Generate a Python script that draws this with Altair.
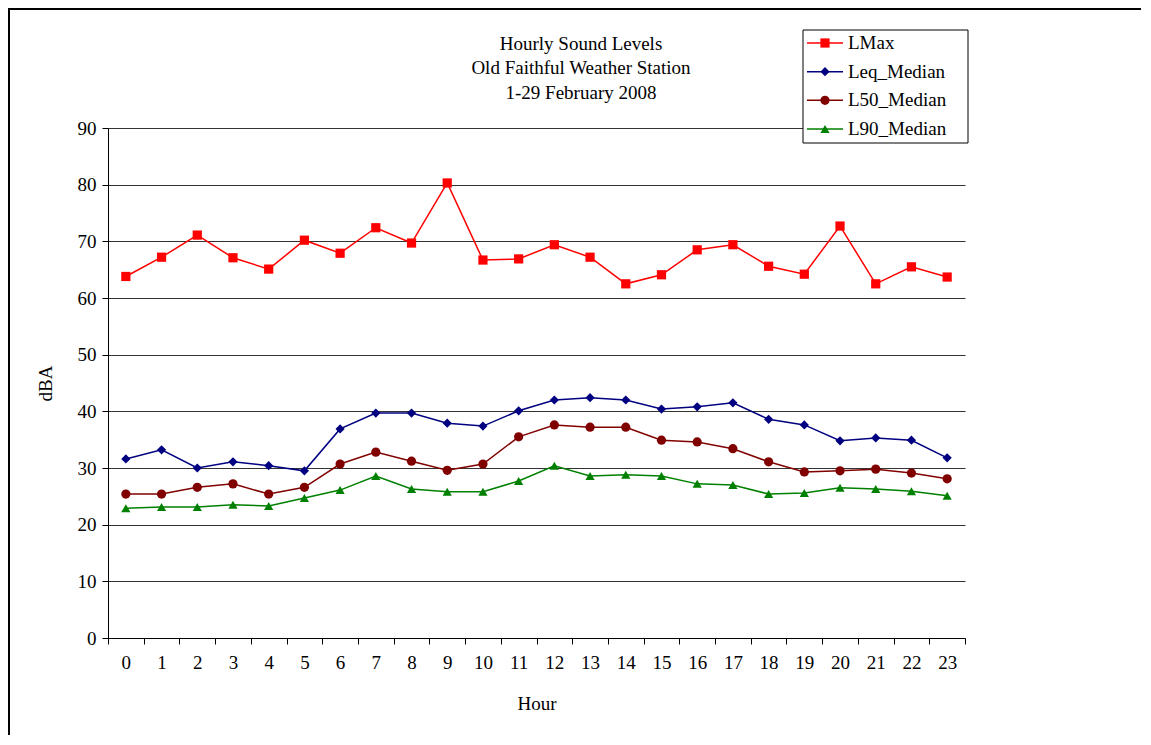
import altair as alt
import pandas as pd

hours = list(range(24))
lmax = [63.8, 67.2, 71.1, 67.1, 65.1, 70.2, 67.9, 72.4, 69.7, 80.3, 66.7, 66.9,
        69.4, 67.2, 62.5, 64.1, 68.5, 69.4, 65.6, 64.2, 72.7, 62.5, 65.5, 63.7]
leq = [31.6, 33.2, 30.0, 31.1, 30.4, 29.5, 36.9, 39.7, 39.7, 37.9, 37.4, 40.1,
       42.0, 42.4, 42.0, 40.4, 40.8, 41.5, 38.6, 37.6, 34.8, 35.3, 34.9, 31.8]
l50 = [25.4, 25.4, 26.6, 27.2, 25.4, 26.6, 30.7, 32.8, 31.2, 29.6, 30.7, 35.5,
       37.6, 37.2, 37.2, 34.9, 34.6, 33.4, 31.1, 29.3, 29.5, 29.8, 29.1, 28.1]
l90 = [22.9, 23.1, 23.1, 23.5, 23.3, 24.7, 26.1, 28.6, 26.3, 25.8, 25.8, 27.7,
       30.4, 28.6, 28.8, 28.6, 27.2, 27.0, 25.4, 25.6, 26.5, 26.3, 25.9, 25.1]

series_names = ["LMax", "Leq_Median", "L50_Median", "L90_Median"]
series_colors = ["#FF0000", "#000080", "#800000", "#008000"]
series_shapes = ["square", "diamond", "circle", "triangle-up"]
title_lines = ["Hourly Sound Levels", "Old Faithful Weather Station", "1-29 February 2008"]

rows = []
for name, vals in zip(series_names, [lmax, leq, l50, l90]):
    for h, v in zip(hours, vals):
        rows.append({"Hour": h, "Series": name, "dBA": v})
df = pd.DataFrame(rows)
legend_df = pd.DataFrame({"Series": series_names})

FONT = "Liberation Serif"
FS = 19

xenc = alt.X("Hour:O", title="Hour",
             scale=alt.Scale(paddingInner=0, paddingOuter=0),
             axis=alt.Axis(labelAngle=0, tickBand="extent", grid=False,
                           labelFontSize=FS, titleFontSize=FS, labelPadding=9,
                           titlePadding=22, tickSize=6))
yenc = alt.Y("dBA:Q", title="dBA",
             scale=alt.Scale(domain=[0, 90], nice=False),
             axis=alt.Axis(values=list(range(0, 100, 10)), grid=True,
                           labelFontSize=FS, titleFontSize=FS, tickSize=6,
                           labelPadding=6, titlePadding=22))

color_scale = alt.Scale(domain=series_names, range=series_colors)
shape_scale = alt.Scale(domain=series_names, range=series_shapes)
color_enc = alt.Color("Series:N", scale=color_scale, legend=None)
shape_enc = alt.Shape("Series:N", scale=shape_scale, legend=None)

# outer frame
frame = alt.Chart(pd.DataFrame({"k": [0]})).mark_rect(
    filled=False, stroke="black", strokeWidth=2
).encode(x=alt.value(-99), x2=alt.value(1200), y=alt.value(-119), y2=alt.value(800))

# title
title_layers = []
for txt, yy in zip(title_lines, [-84, -60, -35]):
    title_layers.append(
        alt.Chart(pd.DataFrame({"t": [txt]})).mark_text(
            font=FONT, fontSize=FS, color="black", align="center", baseline="middle"
        ).encode(text="t:N", x=alt.value(473), y=alt.value(yy))
    )

lines = alt.Chart(df).mark_line(strokeWidth=1.5).encode(
    x=xenc, y=yenc, color=color_enc, detail="Series:N",
)
points = alt.Chart(df).mark_point(filled=True, opacity=1, size=85).encode(
    x=xenc, y=yenc, color=color_enc, shape=shape_enc,
)
main = alt.layer(frame, *title_layers, lines, points)

# legend (drawn as its own layer with its own vertical point scale)
ly = alt.Y("Series:N",
           scale=alt.Scale(type="point", domain=series_names, range=[-85, 1], padding=0),
           axis=None)
leg_box = alt.Chart(pd.DataFrame({"k": [0]})).mark_rect(
    fill="white", stroke="black", strokeWidth=1
).encode(x=alt.value(695), x2=alt.value(860), y=alt.value(-98), y2=alt.value(15))
leg_rule = alt.Chart(legend_df).mark_rule(strokeWidth=1.5).encode(
    x=alt.value(699), x2=alt.value(735), y=ly, color=color_enc,
)
leg_pt = alt.Chart(legend_df).mark_point(filled=True, opacity=1, size=85).encode(
    x=alt.value(717), y=ly, color=color_enc, shape=shape_enc,
)
leg_txt = alt.Chart(legend_df).mark_text(
    font=FONT, fontSize=FS, color="black", align="left", baseline="middle"
).encode(x=alt.value(740), y=ly, text="Series:N")
legend = alt.layer(leg_box, leg_rule, leg_pt, leg_txt)

chart = alt.layer(main, legend).resolve_scale(y="independent").properties(
    width=857, height=510,
    autosize=alt.AutoSizeParams(type="none"),
    padding={"left": 100, "top": 120, "right": 176, "bottom": 97},
).configure(font=FONT).configure_axis(
    labelFont=FONT, titleFont=FONT, labelColor="black", titleColor="black",
    titleFontWeight="normal", domainColor="black", tickColor="black",
    gridColor="#333333", gridWidth=1,
).configure_view(stroke=None)

chart.save("out.html", embed_options={"renderer": "svg", "actions": False})
